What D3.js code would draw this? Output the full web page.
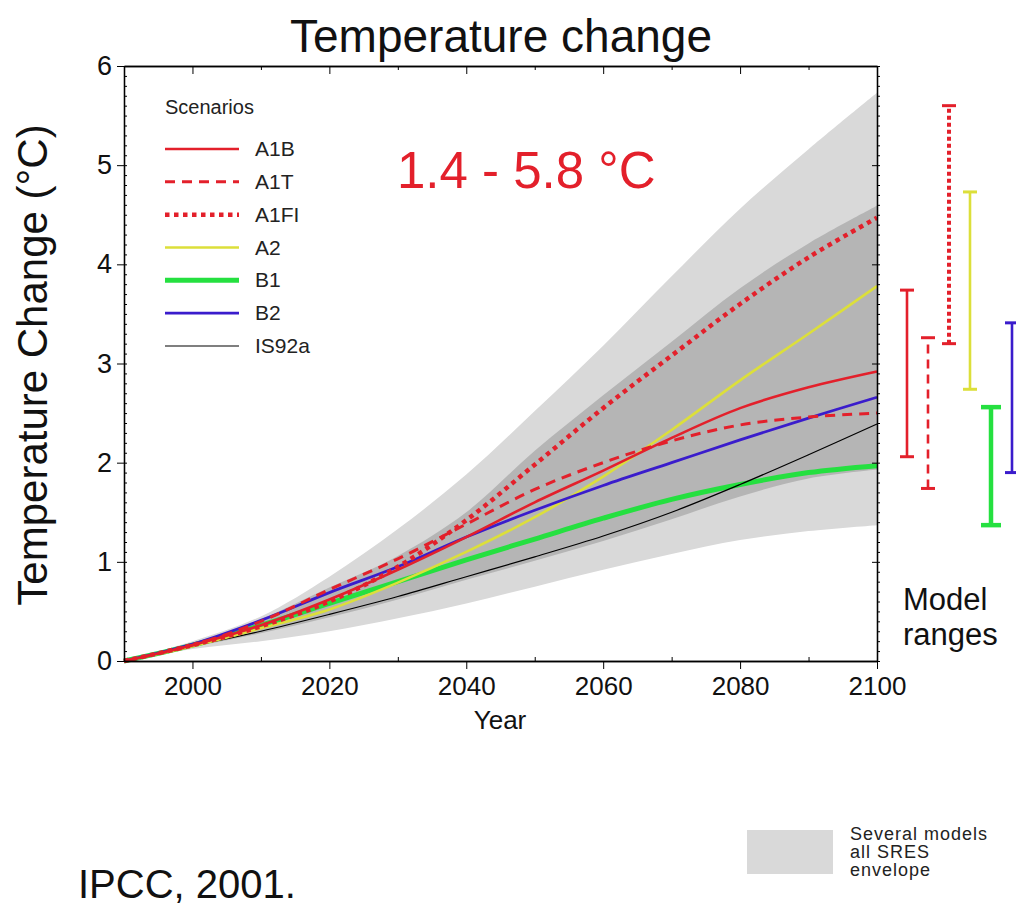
<!DOCTYPE html>
<html>
<head>
<meta charset="utf-8">
<script src="https://cdn.jsdelivr.net/npm/d3@7"></script>
<style>
  body { margin: 0; background: #fff; }
  text { font-family: "Liberation Sans", Arial, Helvetica, sans-serif; }
</style>
</head>
<body>
<svg id="chart" width="1016" height="907"></svg>
<script>
// ---- data ----
const years = [1990, 2000, 2010, 2020, 2030, 2040, 2050, 2060, 2070, 2080, 2090, 2100];

const a1b   = [0, 0.16, 0.36, 0.62, 0.92, 1.25, 1.60, 1.92, 2.25, 2.55, 2.76, 2.92];
const a1t   = [0, 0.16, 0.40, 0.72, 1.03, 1.38, 1.73, 2.00, 2.22, 2.38, 2.46, 2.50];
const a1fi  = [0, 0.16, 0.35, 0.60, 0.95, 1.42, 1.98, 2.55, 3.08, 3.60, 4.07, 4.47];
const a2    = [0, 0.15, 0.33, 0.52, 0.79, 1.10, 1.45, 1.86, 2.33, 2.83, 3.30, 3.78];
const b1    = [0, 0.16, 0.36, 0.58, 0.80, 1.02, 1.23, 1.44, 1.63, 1.78, 1.90, 1.97];
const b2    = [0, 0.17, 0.41, 0.69, 0.95, 1.25, 1.52, 1.77, 2.00, 2.23, 2.45, 2.66];
const is92a = [0, 0.15, 0.30, 0.47, 0.65, 0.85, 1.05, 1.26, 1.50, 1.78, 2.08, 2.39];

// envelopes
const allHi  = [0, 0.20, 0.45, 0.85, 1.33, 1.88, 2.52, 3.18, 3.88, 4.56, 5.16, 5.73];
const allLo  = [0, 0.12, 0.20, 0.30, 0.43, 0.58, 0.75, 0.92, 1.08, 1.22, 1.31, 1.37];
const meanHi = [0, 0.17, 0.42, 0.74, 1.06, 1.50, 2.12, 2.68, 3.22, 3.76, 4.21, 4.59];
const meanLo = [0, 0.14, 0.28, 0.44, 0.62, 0.82, 1.01, 1.21, 1.43, 1.66, 1.84, 1.93];

// model ranges at 2100
const rangeNames = ["A1B", "A1T", "A1FI", "A2", "B1", "B2"];
const rangeLo = [2.06, 1.74, 3.20, 2.74, 1.37, 1.90];
const rangeHi = [3.74, 3.26, 5.60, 4.73, 2.56, 3.41];

const scenarios = ["A1B", "A1T", "A1FI", "A2", "B1", "B2", "IS92a"];
const yTicks = [0, 1, 2, 3, 4, 5, 6];
const xTicks = [2000, 2020, 2040, 2060, 2080, 2100];

// ---- styles ----
const style = {
  A1B:   { color: "#e3202b", width: 2.6, dash: null },
  A1T:   { color: "#e3202b", width: 3,   dash: "10,7" },
  A1FI:  { color: "#e3202b", width: 4.5, dash: "4.5,4.5" },
  A2:    { color: "#dcdf3a", width: 2.6, dash: null },
  B1:    { color: "#25e040", width: 5,   dash: null },
  B2:    { color: "#3a1ccc", width: 2.8, dash: null },
  IS92a: { color: "#000000", width: 1.2, dash: null }
};
const series = { A1B: a1b, A1T: a1t, A1FI: a1fi, A2: a2, B1: b1, B2: b2, IS92a: is92a };

const svg = d3.select("#chart");

const x = d3.scaleLinear().domain([1990, 2100]).range([124, 877]);
const y = d3.scaleLinear().domain([0, 6]).range([661, 66]);

// envelopes
const band = (lo, hi) => d3.area()
  .x((d, i) => x(years[i]))
  .y0((d, i) => y(lo[i]))
  .y1((d, i) => y(hi[i]))
  .curve(d3.curveCatmullRom)(years);

svg.append("path").attr("d", band(allLo, allHi)).attr("fill", "#d9d9d9");
svg.append("path").attr("d", band(meanLo, meanHi)).attr("fill", "#b5b5b5");

// scenario lines
const line = d3.line()
  .x((d, i) => x(years[i]))
  .y(d => y(d))
  .curve(d3.curveCatmullRom);

["B1", "IS92a", "A2", "B2", "A1B", "A1T", "A1FI"].forEach(k => {
  svg.append("path")
    .attr("d", line(series[k]))
    .attr("fill", "none")
    .attr("stroke", style[k].color)
    .attr("stroke-width", style[k].width)
    .attr("stroke-dasharray", style[k].dash);
});

// axes
const ax = g => g.call(g => g.selectAll("text").remove())
  .call(g => g.select(".domain").attr("stroke-width", 1.3));

svg.append("g").attr("transform", "translate(0,661)")
  .call(d3.axisBottom(x).tickValues(xTicks).tickFormat(d3.format("d")).tickSize(8).tickSizeOuter(0))
  .call(g => g.select(".domain").attr("stroke-width", 1.3))
  .call(g => g.selectAll("text").attr("font-size", 26).attr("dy", "0.9em").attr("fill", "#111"));
svg.append("g").attr("transform", "translate(0,661)")
  .call(d3.axisTop(x).tickValues(d3.range(2010, 2100, 20)).tickSize(4).tickSizeOuter(0))
  .call(ax);

svg.append("g").attr("transform", "translate(0,66)")
  .call(d3.axisBottom(x).tickValues(xTicks).tickSize(8).tickSizeOuter(0))
  .call(ax);
svg.append("g").attr("transform", "translate(0,66)")
  .call(d3.axisBottom(x).tickValues(d3.range(2010, 2100, 20)).tickSize(4).tickSizeOuter(0))
  .call(ax);

svg.append("g").attr("transform", "translate(124,0)")
  .call(d3.axisLeft(y).tickValues(yTicks).tickFormat(d3.format("d")).tickSize(7).tickSizeOuter(0))
  .call(g => g.select(".domain").attr("stroke-width", 1.3))
  .call(g => g.selectAll("text").attr("font-size", 27).attr("x", -12).attr("fill", "#111"));
svg.append("g").attr("transform", "translate(124,0)")
  .call(d3.axisRight(y).tickValues(d3.range(0, 6.01, 0.1)).tickSize(3).tickSizeOuter(0))
  .call(ax);

svg.append("g").attr("transform", "translate(877,0)")
  .call(d3.axisRight(y).tickValues(d3.range(0, 6.01, 0.1)).tickSize(3).tickSizeOuter(0))
  .call(ax);
svg.append("g").attr("transform", "translate(877,0)")
  .call(d3.axisLeft(y).tickValues(yTicks).tickSize(5).tickSizeOuter(0))
  .call(ax);

// titles
svg.append("text").attr("x", 501).attr("y", 52).attr("text-anchor", "middle")
  .attr("font-size", 46).attr("fill", "#111").text("Temperature change");
svg.append("text").attr("x", 500).attr("y", 729).attr("text-anchor", "middle")
  .attr("font-size", 26).attr("fill", "#111").text("Year");
svg.append("text").attr("transform", "translate(47,365) rotate(-90)").attr("text-anchor", "middle")
  .attr("font-size", 42).attr("fill", "#111").text("Temperature Change (°C)");
svg.append("text").attr("x", 397).attr("y", 188)
  .attr("font-size", 51).attr("fill", "#e3202b").text("1.4 - 5.8 °C");

// legend
const ly = d3.scalePoint().domain(scenarios).range([149, 346]);
svg.append("text").attr("x", 165).attr("y", 114).attr("font-size", 20).attr("fill", "#222").text("Scenarios");
const lg = svg.append("g").selectAll("g").data(scenarios).join("g");
lg.append("line")
  .attr("x1", 165).attr("x2", 239)
  .attr("y1", d => ly(d)).attr("y2", d => ly(d))
  .attr("stroke", d => style[d].color)
  .attr("stroke-width", d => style[d].width)
  .attr("stroke-dasharray", d => style[d].dash);
lg.append("text")
  .attr("x", 255).attr("y", d => ly(d) + 7)
  .attr("font-size", 21).attr("fill", "#222")
  .text(d => d);

// model ranges
const rx = d3.scalePoint().domain(rangeNames).range([907, 1012]);
const rg = svg.append("g").selectAll("g").data(rangeNames).join("g");
rg.append("line")
  .attr("x1", d => rx(d)).attr("x2", d => rx(d))
  .attr("y1", (d, i) => y(rangeLo[i])).attr("y2", (d, i) => y(rangeHi[i]))
  .attr("stroke", d => style[d].color)
  .attr("stroke-width", d => d === "B1" ? 4.5 : d === "A1FI" ? 4 : 2.6)
  .attr("stroke-dasharray", d => d === "A1T" ? "9,6" : d === "A1FI" ? "4,3" : null);
[rangeLo, rangeHi].forEach(vals => {
  rg.append("line")
    .attr("x1", d => rx(d) - (d === "B1" ? 10 : 7)).attr("x2", d => rx(d) + (d === "B1" ? 10 : 7))
    .attr("y1", (d, i) => y(vals[i])).attr("y2", (d, i) => y(vals[i]))
    .attr("stroke", d => style[d].color)
    .attr("stroke-width", d => d === "B1" ? 4.5 : 3);
});

svg.append("text").attr("x", 903).attr("y", 610).attr("font-size", 31).attr("fill", "#111").text("Model");
svg.append("text").attr("x", 903).attr("y", 645).attr("font-size", 31).attr("fill", "#111").text("ranges");

// envelope key + source
svg.append("rect").attr("x", 747).attr("y", 830).attr("width", 86).attr("height", 44).attr("fill", "#d9d9d9");
["Several models", "all SRES", "envelope"].forEach((t, i) => {
  svg.append("text").attr("x", 850).attr("y", 840 + i * 18)
    .attr("font-size", 18).attr("letter-spacing", 1).attr("fill", "#222").text(t);
});
svg.append("text").attr("x", 78).attr("y", 898).attr("font-size", 40).attr("fill", "#111").text("IPCC, 2001.");
</script>
</body>
</html>
